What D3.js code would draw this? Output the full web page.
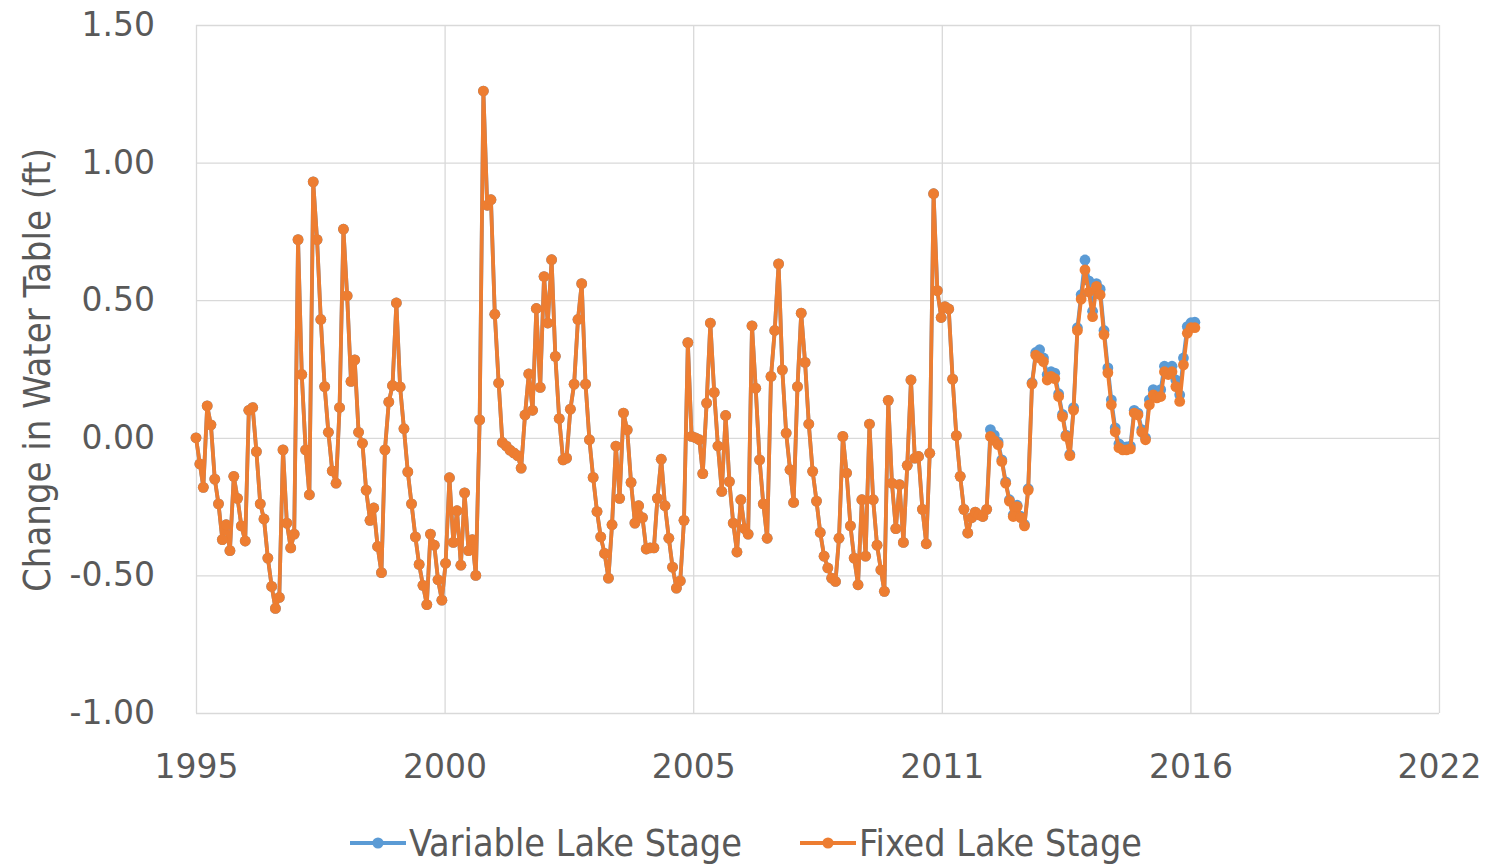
<!DOCTYPE html>
<html>
<head>
<meta charset="utf-8">
<script src="https://cdn.jsdelivr.net/npm/d3@7"></script>
<style>
  body { margin: 0; background: #fff; }
  svg { display: block; }
</style>
</head>
<body>
<svg id="chart"></svg>
<script>
// monthly values, Jan 1995 onward; both runs agree until early 2012
const sharedStage = [
  0.00, -0.095, -0.18, 0.116, 0.047, -0.15, -0.24, -0.37, -0.316, -0.41, -0.14, -0.22,
  -0.32, -0.375, 0.10, 0.11, -0.05, -0.24, -0.295, -0.437, -0.54, -0.62, -0.58, -0.044,
  -0.31, -0.40, -0.35, 0.72, 0.23, -0.044, -0.207, 0.93, 0.72, 0.43, 0.186, 0.02,
  -0.12, -0.165, 0.11, 0.758, 0.516, 0.205, 0.283, 0.02, -0.02, -0.19, -0.30, -0.255,
  -0.395, -0.49, -0.044, 0.13, 0.19, 0.49, 0.185, 0.033, -0.124, -0.24, -0.36, -0.46,
  -0.536, -0.606, -0.35, -0.39, -0.516, -0.59, -0.456, -0.145, -0.38, -0.265, -0.463, -0.2,
  -0.41, -0.37, -0.50, 0.065, 1.26, 0.845, 0.865, 0.449, 0.199, -0.017, -0.03, -0.045,
  -0.055, -0.065, -0.11, 0.083, 0.232, 0.10, 0.47, 0.183, 0.586, 0.417, 0.647, 0.296,
  0.07, -0.08, -0.074, 0.104, 0.195, 0.43, 0.56, 0.195, -0.007, -0.144, -0.268, -0.36,
  -0.42, -0.51, -0.316, -0.03, -0.22, 0.09, 0.029, -0.162, -0.31, -0.247, -0.29, -0.404,
  -0.40, -0.40, -0.22, -0.078, -0.247, -0.365, -0.47, -0.546, -0.52, -0.30, 0.346, 0.005,
  0.00, -0.007, -0.13, 0.126, 0.417, 0.165, -0.03, -0.195, 0.081, -0.159, -0.31, -0.415,
  -0.225, -0.33, -0.35, 0.407, 0.18, -0.08, -0.24, -0.365, 0.223, 0.39, 0.632, 0.247,
  0.017, -0.116, -0.235, 0.186, 0.453, 0.274, 0.05, -0.122, -0.23, -0.344, -0.43, -0.473,
  -0.51, -0.522, -0.365, 0.005, -0.128, -0.32, -0.437, -0.534, -0.225, -0.43, 0.05, -0.225,
  -0.39, -0.48, -0.558, 0.136, -0.165, -0.33, -0.17, -0.38, -0.10, 0.21, -0.074, -0.068,
  -0.26, -0.385, -0.056, 0.887, 0.535, 0.437, 0.477, 0.468, 0.213, 0.008, -0.14, -0.26,
  -0.346, -0.29, -0.27, -0.28, -0.286, -0.26
];

const variableLate = [
  0.03, 0.01, -0.015, -0.08, -0.16, -0.225, -0.28, -0.245, -0.285, -0.315,
  -0.185, 0.20, 0.31, 0.32, 0.29, 0.23, 0.24, 0.235, 0.16, 0.085,
  0.01, -0.06, 0.11, 0.40, 0.52, 0.646, 0.57, 0.46, 0.56, 0.54,
  0.39, 0.254, 0.138, 0.036, -0.022, -0.033, -0.033, -0.03, 0.10, 0.09,
  0.03, 0.00, 0.138, 0.175, 0.163, 0.175, 0.26, 0.25, 0.26, 0.21,
  0.156, 0.29, 0.404, 0.418, 0.42
];

const fixedLate = [
  0.005, -0.01, -0.025, -0.086, -0.165, -0.23, -0.286, -0.25, -0.29, -0.32,
  -0.19, 0.196, 0.30, 0.29, 0.277, 0.21, 0.223, 0.215, 0.15, 0.077,
  0.005, -0.065, 0.10, 0.39, 0.504, 0.61, 0.53, 0.44, 0.55, 0.52,
  0.375, 0.236, 0.12, 0.022, -0.036, -0.044, -0.044, -0.04, 0.09, 0.083,
  0.02, -0.007, 0.12, 0.156, 0.145, 0.15, 0.24, 0.23, 0.24, 0.186,
  0.132, 0.265, 0.38, 0.40, 0.40
];

const seriesNames = ["Variable Lake Stage", "Fixed Lake Stage"];
const seriesColors = ["#5B9BD5", "#ED7D31"];
const yTicks = [-1.0, -0.5, 0.0, 0.5, 1.0, 1.5];
const xTickDays = [0, 2000, 4000, 6000, 8000, 10000];
const xTickLabels = ["1995", "2000", "2005", "2011", "2016", "2022"];
const yTitle = "Change in Water Table (ft)";

const w = 1488;
const h = 867;
const plotL = 196, plotR = 1439, plotT = 25, plotB = 713;

const svg = d3.select("#chart").attr("width", w).attr("height", h);

const t0 = Date.UTC(1995, 0, 1);
const dayOf = (i) => (Date.UTC(1995, i, 1) - t0) / 864e5;

const series = [
  sharedStage.concat(variableLate),
  sharedStage.concat(fixedLate)
].map((vals) => vals.map((v, i) => ({ d: dayOf(i), v: v })));

const x = d3.scaleLinear().domain([0, 10000]).range([plotL, plotR]);
const y = d3.scaleLinear().domain([-1, 1.5]).range([plotB, plotT]);

const tickFont = "'DejaVu Sans', Verdana, sans-serif";
const labelFont = "'Liberation Sans Narrow', 'DejaVu Sans Condensed', 'Open Sans', sans-serif";

// plain hyphen for negatives, like the source chart
const yFmt = (d) => d.toFixed(2);

svg.append("g")
  .attr("transform", `translate(${plotL},0)`)
  .call(d3.axisLeft(y).tickValues(yTicks).tickSize(-(plotR - plotL)).tickFormat(yFmt))
  .call((g) => g.select(".domain").remove())
  .call((g) => g.selectAll("line").attr("stroke", "#d9d9d9").attr("stroke-width", 1.3))
  .call((g) => g.selectAll("text")
    .attr("x", -41)
    .attr("fill", "#595959")
    .style("font-family", tickFont)
    .style("font-size", "33px"));

svg.append("g")
  .attr("transform", `translate(0,${plotB})`)
  .call(d3.axisBottom(x).tickValues(xTickDays).tickSize(-(plotB - plotT))
    .tickFormat((d, i) => xTickLabels[i]))
  .call((g) => g.select(".domain").remove())
  .call((g) => g.selectAll("line").attr("stroke", "#d9d9d9").attr("stroke-width", 1.3))
  .call((g) => g.selectAll("text")
    .attr("y", 42)
    .attr("fill", "#595959")
    .style("font-family", tickFont)
    .style("font-size", "33px"));

const line = d3.line().x((p) => x(p.d)).y((p) => y(p.v));

series.forEach((s, k) => {
  const g = svg.append("g");
  g.append("path")
    .datum(s)
    .attr("fill", "none")
    .attr("stroke", seriesColors[k])
    .attr("stroke-width", 3.8)
    .attr("stroke-linejoin", "round")
    .attr("d", line);
  g.selectAll("circle")
    .data(s)
    .enter()
    .append("circle")
    .attr("cx", (p) => x(p.d))
    .attr("cy", (p) => y(p.v))
    .attr("r", 5.4)
    .attr("fill", seriesColors[k]);
});

// fit text to a target width
function fit(sel, target, base) {
  sel.style("font-size", base + "px");
  const len = sel.node().getComputedTextLength();
  sel.style("font-size", (base * target / len).toFixed(2) + "px");
}

const title = svg.append("text")
  .attr("transform", "translate(37,370) rotate(-90)")
  .attr("text-anchor", "middle")
  .attr("dominant-baseline", "central")
  .attr("fill", "#595959")
  .style("font-family", labelFont)
  .text(yTitle);
fit(title, 444, 34);

// legend
const legendX = [350, 800];
const legendW = [333, 283];
seriesNames.forEach((name, k) => {
  const g = svg.append("g").attr("transform", `translate(${legendX[k]},843)`);
  g.append("line").attr("x1", 0).attr("x2", 56).attr("y1", 0).attr("y2", 0)
    .attr("stroke", seriesColors[k]).attr("stroke-width", 3.8);
  g.append("circle").attr("cx", 28).attr("cy", 0).attr("r", 5.6).attr("fill", seriesColors[k]);
  const t = g.append("text")
    .attr("x", 59)
    .attr("dominant-baseline", "central")
    .attr("fill", "#595959")
    .style("font-family", labelFont)
    .text(name);
  fit(t, legendW[k], 36);
});
</script>
</body>
</html>
